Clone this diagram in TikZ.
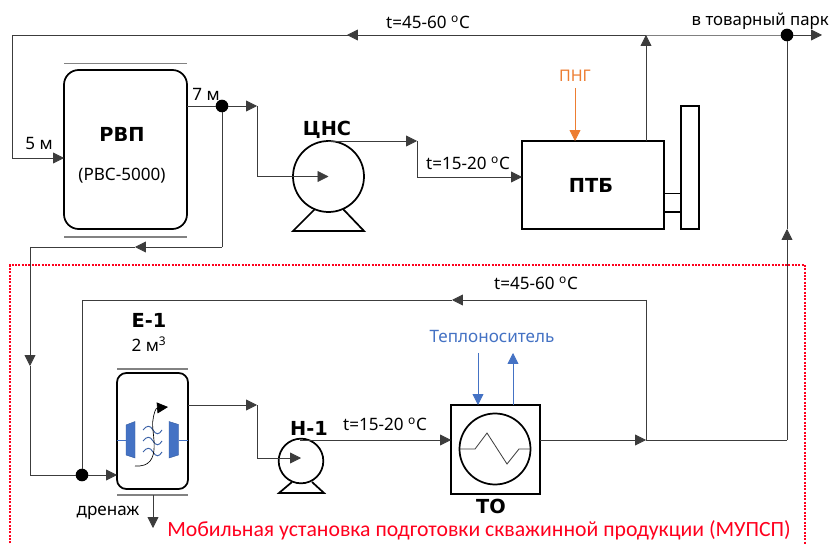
\documentclass[tikz,border=0pt]{standalone}
\usepackage{fontspec}
\setmainfont{Noto Sans}
\newfontfamily\redfont{Carlito}
\newfontfamily\headfont{DejaVu Sans Bold}
\usetikzlibrary{arrows.meta,calc}
\definecolor{lineC}{RGB}{60,60,60}
\definecolor{pngC}{RGB}{237,125,49}
\definecolor{blueC}{RGB}{68,114,196}
\definecolor{redC}{RGB}{255,0,30}
\definecolor{thinGray}{RGB}{130,130,130}
\tikzset{
  flow/.style={draw=lineC,line width=0.6pt},
  tip/.style={flow,-{Triangle[length=8.2pt,width=8.2pt]}},
  unit/.style={draw=black,line width=1.3pt,inner sep=0pt,outer sep=0pt},
  tank/.style={unit,rounded corners=#1},
  wall/.style={draw=thinGray,line width=0.9pt},
  junction/.style={circle,fill=black,inner sep=0pt,outer sep=0pt,minimum size=9.5pt},
  lbl/.style={inner sep=0pt,font=\fontsize{12.8pt}{14pt}\selectfont},
  head/.style={inner sep=0pt,font=\headfont\fontsize{14.5pt}{16pt}\selectfont},
  hot/.style={draw=pngC,line width=0.6pt,-{Triangle[length=8.2pt,width=8.2pt]}},
  cold/.style={draw=blueC,line width=0.6pt,-{Triangle[length=8.2pt,width=8.2pt]}},
  filt/.style={fill=blueC,draw=blueC!80!black,line width=0.3pt},
}
\begin{document}
\begin{tikzpicture}[x=0.75pt,y=-0.75pt]
\path[use as bounding box,clip] (0,0) rectangle (832,545);
\fill[white] (0,0) rectangle (832,545);

% red frame
\draw[redC,line width=0.8pt,dash pattern=on 1.5pt off 1pt] (10,560) -- (10,265) -- (805,265) -- (805,560);

% units
\node[tank=11pt,minimum width=92.25pt,minimum height=119.25pt] (rvp) at (125.5,149.5) {};
\node[head] (rvpT) at (122,134) {РВП};
\node[lbl] (rvpS) at (122,176) {(РВС-5000)};
\draw[wall] (64,63.5) -- (187,63.5);
\draw[wall,line width=1.2pt] (64,237) -- (187,237);

\node[unit,circle,minimum size=53.25pt] (cns) at (328.5,176.5) {};
\coordinate (cnsL) at (293,231); \coordinate (cnsR) at (364,231);
\coordinate (cnsA) at (315,209); \coordinate (cnsB) at (343,209);
\draw[unit] (cnsA) -- (cnsL) -- (cnsR) -- (cnsB);
\node[head] (cnsT) at (327,130) {ЦНС};

\node[unit,minimum width=106.5pt,minimum height=66pt] (ptb) at (593,185) {};
\node[head] (ptbT) at (591,185) {ПТБ};
\node[unit,minimum width=13.5pt,minimum height=92.25pt] (stack) at (690,167.5) {};
\node[unit,minimum width=12.75pt,minimum height=13.9pt] (duct) at (672.5,202.75) {};

\node[tank=7pt,minimum width=53.25pt,minimum height=87pt] (e1) at (152.5,431) {};
\draw[wall] (117,369) -- (188,369);
\draw[wall] (117,495) -- (188,495);
\node[head] (e1T) at (149,320) {Е-1};
\node[lbl] (e1S) at (149,344) {2 м\textsuperscript{3}};

\node[unit,circle,minimum size=33.5pt] (n1) at (301,461) {};
\coordinate (n1L) at (279,493); \coordinate (n1R) at (324,493);
\coordinate (n1A) at (292,482); \coordinate (n1B) at (312,482);
\draw[unit] (n1A) -- (n1L) -- (n1R) -- (n1B);
\node[head] (n1T) at (309,428) {Н-1};

\node[unit,minimum width=66.75pt,minimum height=66.75pt] (to) at (495.5,449.5) {};
\node[unit,circle,minimum size=53.25pt] (toC) at (495,449) {};
\node[head] (toT) at (491,506) {ТО};
\coordinate (z1) at (460,449); \coordinate (z2) at (475,449); \coordinate (z3) at (487,433);
\coordinate (z4) at (507,464); \coordinate (z5) at (519,449); \coordinate (z6) at (530,449);
\draw[draw=lineC,line width=0.6pt] (z1) -- (z2) -- (z3) -- (z4) -- (z5) -- (z6);

% separator internals
\fill[filt] (126,425) -- (135,421.5) -- (135,458) -- (126,455) -- cycle;
\fill[filt] (169,421.5) -- (178.5,424.5) -- (178.5,455) -- (169,458) -- cycle;
\draw[blueC,line width=0.35pt] (117,440) -- (126,440) (178.5,440) -- (188,440);
\foreach \yy in {430,441,452}{
  \draw[blueC!85!black,line width=0.7pt] (143,\yy) .. controls (147,\yy-5) and (150,\yy-5) .. (153,\yy) .. controls (156,\yy+5) and (159,\yy+5) .. (162,\yy);
}
\coordinate (fa) at (135,466); \coordinate (fb) at (168,407);
\draw[draw=black,line width=0.5pt,-{Triangle[length=8.2pt,width=8.2pt]}] (fa) .. controls (165,468) and (150,430) .. (153,420) .. controls (154,412) and (156,408) .. (fb);

% junctions and bends
\node[junction] (j1) at (222,106) {};
\node[junction] (j2) at (787,35) {};
\node[junction] (j3) at (82,475) {};

\coordinate (topL) at (12,35);
\coordinate (topA) at (347,35);
\coordinate (topM) at (646,35);
\coordinate (topEnd) at (822,35);
\coordinate (rvpIn) at (12,158);
\coordinate (a1) at (257,106);
\coordinate (a2) at (257,176.5);
\coordinate (a3) at (417,141);
\coordinate (a4) at (417,177);
\coordinate (cnsTop) at (328,141);
\coordinate (b1) at (222,247);
\coordinate (b2) at (135,247);
\coordinate (b3) at (30,247);
\coordinate (b4) at (30,366);
\coordinate (b5) at (30,475);
\coordinate (c1) at (82,300);
\coordinate (c2) at (452,300);
\coordinate (c3) at (646,300);
\coordinate (c4) at (646,440);
\coordinate (c5) at (787,440);
\coordinate (c6) at (787,229);
\coordinate (d1) at (257,405);
\coordinate (d2) at (257,458);
\coordinate (n1In) at (301,458);
\coordinate (n1Top) at (300,440);
\coordinate (drain) at (153,528);
\coordinate (drainS) at (153,495);
\coordinate (pngS) at (575,88);
\coordinate (heatA) at (478,353);
\coordinate (heatB) at (513,353);

% upper circuit
\draw[flow] (j2) -- (topM) -- (topA);
\draw[tip] (topM) -- (topA);
\draw[flow] (topA) -- (topL) -- (rvpIn);
\draw[tip] (rvpIn) -- (rvp.west |- rvpIn);
\draw[flow] (rvp.east |- j1) -- (j1);
\draw[tip] (j1) -- (a1);
\draw[flow] (a1) -- (a2);
\draw[tip] (a2) -- (cns.center);
\draw[flow] (cnsTop) -- (a3 -| cnsTop);
\draw[tip] (cnsTop) -- (a3);
\draw[flow] (a3) -- (a4);
\draw[tip] (a4) -- (ptb.west |- a4);
\draw[tip] (ptb.north -| topM) -- (topM);
\draw[tip] (j2) -- (topEnd);
\draw[hot] (pngS) -- (ptb.north -| pngS);

% lower circuit
\draw[flow] (j1) -- (b1);
\draw[tip] (b1) -- (b2);
\draw[flow] (b2) -- (b3);
\draw[tip] (b3) -- (b4);
\draw[flow] (b4) -- (b5) -- (j3);
\draw[tip] (j3) -- (e1.west |- j3);
\draw[flow] (j3) -- (c1) -- (c2);
\draw[tip] (c3) -- (c2);
\draw[flow] (c3) -- (c4);
\draw[tip] (e1.east |- d1) -- (d1);
\draw[flow] (d1) -- (d2);
\draw[tip] (d2) -- (n1In);
\draw[tip] (n1Top) -- (to.west |- n1Top);
\draw[tip] (to.east |- c4) -- (c4);
\draw[flow] (c4) -- (c5);
\draw[tip] (c5) -- (c6);
\draw[flow] (c6) -- (j2);
\draw[tip] (drainS) -- (drain);
\draw[cold] (heatA) -- (to.north -| heatA);
\draw[cold] (to.north -| heatB) -- (heatB);

% labels
\node[lbl] (l1) at (428,22) {t=45-60 \textsuperscript{o}C};
\node[lbl,anchor=east,font=\fontsize{12.6pt}{14pt}\selectfont] (l2) at (829,21) {в товарный парк};
\node[lbl,text=pngC,font=\fontsize{12pt}{14pt}\selectfont] (l3) at (575,76) {ПНГ};
\node[lbl] (l4) at (39,143) {5 м};
\node[lbl] (l5) at (206,94) {7 м};
\node[lbl] (l6) at (468,163) {t=15-20 \textsuperscript{o}C};
\node[lbl] (l7) at (536,283) {t=45-60 \textsuperscript{o}C};
\node[lbl] (l8) at (385,424) {t=15-20 \textsuperscript{o}C};
\node[lbl,text=blueC] (l9) at (492,336) {Теплоноситель};
\node[lbl] (l10) at (108,513) {дренаж};
\node[inner sep=0pt,text=redC,font=\redfont\fontsize{16.3pt}{18pt}\selectfont] (l11) at (479,530) {Мобильная установка подготовки скважинной продукции (МУПСП)};
\end{tikzpicture}
\end{document}
